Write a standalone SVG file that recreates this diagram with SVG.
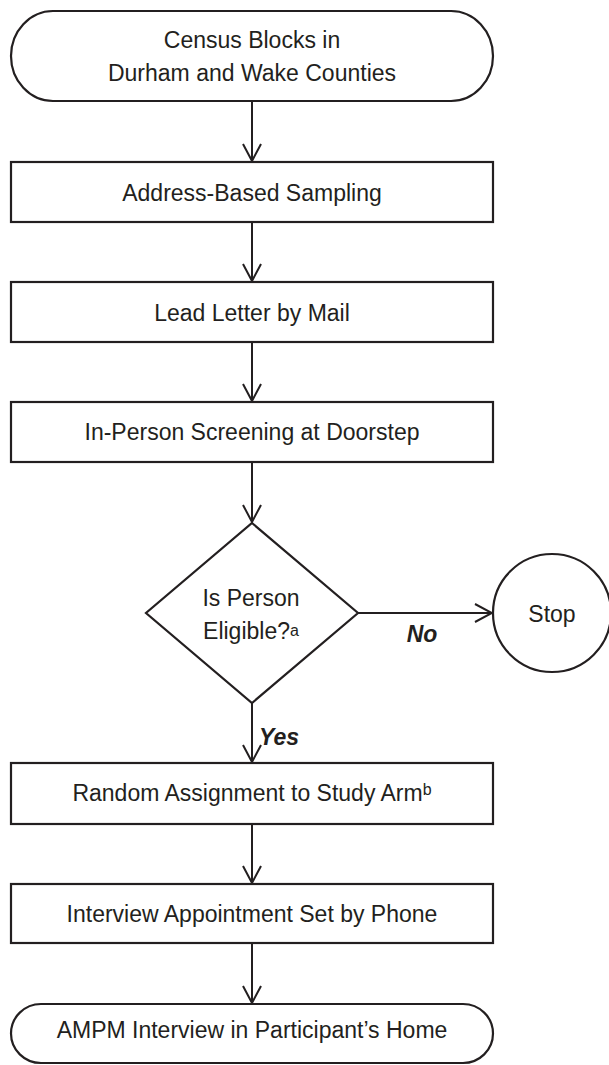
<svg xmlns="http://www.w3.org/2000/svg" width="609" height="1065" viewBox="0 0 609 1065">
<style>
.shape{fill:#fff;stroke:#231f20;stroke-width:2.2}
.conn{fill:none;stroke:#231f20;stroke-width:2}
text{font-family:"Liberation Sans",Arial,sans-serif;font-size:23px;fill:#231f20;text-anchor:middle}
.lbl{font-weight:bold;font-style:italic}
.sup{font-size:16px}
</style>
<defs>
<marker id="arr" markerUnits="userSpaceOnUse" markerWidth="20" markerHeight="22" viewBox="-19 -11 20 22" refX="0" refY="0" orient="auto">
<path d="M-17,-9 L0,0 L-17,9" fill="none" stroke="#231f20" stroke-width="2"/>
</marker>
</defs>
<g id="connectors">
<line class="conn" x1="252" y1="101" x2="252" y2="161" marker-end="url(#arr)"/>
<line class="conn" x1="252" y1="222" x2="252" y2="281" marker-end="url(#arr)"/>
<line class="conn" x1="252" y1="342" x2="252" y2="401" marker-end="url(#arr)"/>
<line class="conn" x1="252" y1="462" x2="252" y2="522" marker-end="url(#arr)"/>
<line class="conn" x1="358" y1="613" x2="492" y2="613" marker-end="url(#arr)"/>
<line class="conn" x1="252" y1="703" x2="252" y2="762" marker-end="url(#arr)"/>
<line class="conn" x1="252" y1="824" x2="252" y2="883" marker-end="url(#arr)"/>
<line class="conn" x1="252" y1="943" x2="252" y2="1003" marker-end="url(#arr)"/>
<text class="lbl" x="422" y="642">No</text>
<text class="lbl" x="279" y="745">Yes</text>
</g>
<g id="n1">
<rect class="shape" x="11" y="11" width="482" height="90" rx="42" ry="45"/>
<text x="252" y="48">Census Blocks in</text>
<text x="252" y="81">Durham and Wake Counties</text>
</g>
<g id="n2">
<rect class="shape" x="11" y="162" width="482" height="60"/>
<text x="252" y="201">Address-Based Sampling</text>
</g>
<g id="n3">
<rect class="shape" x="11" y="282" width="482" height="60"/>
<text x="252" y="321">Lead Letter by Mail</text>
</g>
<g id="n4">
<rect class="shape" x="11" y="402" width="482" height="60"/>
<text x="252" y="440">In-Person Screening at Doorstep</text>
</g>
<g id="n5">
<polygon class="shape" points="252,523 358,613 252,703 146,613"/>
<text x="251" y="606">Is Person</text>
<text x="251" y="639">Eligible?<tspan class="sup" dy="-3">a</tspan></text>
</g>
<g id="n6">
<circle class="shape" cx="552" cy="613" r="59"/>
<text x="552" y="622">Stop</text>
</g>
<g id="n7">
<rect class="shape" x="11" y="763" width="482" height="61"/>
<text x="252" y="801">Random Assignment to Study Arm<tspan class="sup" dy="-6">b</tspan></text>
</g>
<g id="n8">
<rect class="shape" x="11" y="884" width="482" height="59"/>
<text x="252" y="922">Interview Appointment Set by Phone</text>
</g>
<g id="n9">
<rect class="shape" x="11" y="1004" width="482" height="59" rx="30" ry="29.5"/>
<text x="252" y="1038">AMPM Interview in Participant’s Home</text>
</g>
</svg>
